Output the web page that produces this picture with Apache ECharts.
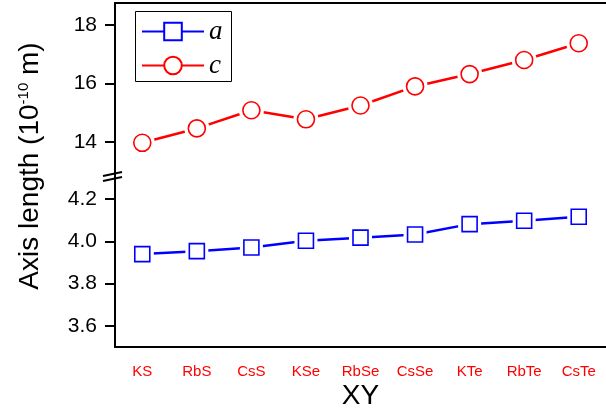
<!DOCTYPE html>
<html lang="en">
<head>
    <meta charset="UTF-8">
    <title>Axis length</title>
    <style>
        html, body { margin: 0; padding: 0; background: #fff; }
    </style>
</head>
<body>
<div id="container" style="width: 606px; height: 415px"></div>
<script type="text/javascript" src="https://cdn.jsdelivr.net/npm/echarts@6/dist/echarts.min.js"></script>
<script type="text/javascript">
    var categories = ['KS', 'RbS', 'CsS', 'KSe', 'RbSe', 'CsSe', 'KTe', 'RbTe', 'CsTe'];
    var aValues = [3.940, 3.954, 3.971, 4.003, 4.018, 4.033, 4.082, 4.098, 4.117];
    var cValues = [13.98, 14.47, 15.09, 14.78, 15.25, 15.90, 16.32, 16.80, 17.37];
    var topTicks = [14, 16, 18];
    var topMinor = [15, 17];
    var bottomTicks = [3.6, 3.8, 4.0, 4.2];
    var bottomMinor = [3.7, 3.9, 4.1];

    var black = '#000';
    var labelFont = 'Liberation Sans, Arial, sans-serif';

    function pairs(values) {
        return values.map(function (v, i) { return [i, v]; });
    }

    function haloSeries(name, symbol, size, xi, yi, data) {
        // white disc under the marker so the line stops short of it
        return {
            name: name, type: 'scatter', xAxisIndex: xi, yAxisIndex: yi,
            symbol: symbol, symbolSize: size, data: pairs(data), z: 5, silent: true,
            itemStyle: {color: '#fff', opacity: 1}
        };
    }

    function markerSeries(name, symbol, size, color, xi, yi, data) {
        return {
            name: name, type: 'scatter', xAxisIndex: xi, yAxisIndex: yi,
            symbol: symbol, symbolSize: size, data: pairs(data), z: 6, silent: true,
            itemStyle: {color: '#fff', borderColor: color, borderWidth: 1.6, opacity: 1}
        };
    }

    var option = {
        animation: false,
        backgroundColor: '#fff',
        grid: [
            {left: 115, top: 3, width: 498, height: 173},
            {left: 115, top: 176, width: 498, height: 171}
        ],
        legend: {
            data: ['a', 'c'],
            orient: 'vertical',
            left: 135,
            top: 12,
            itemWidth: 62,
            itemHeight: 22,
            itemGap: 7,
            padding: [6, 10, 3, 6],
            textStyle: {
                fontFamily: 'Liberation Serif, Times New Roman, serif',
                fontStyle: 'italic',
                fontSize: 27,
                lineHeight: 22,
                color: black
            }
        },
        xAxis: [
            {
                gridIndex: 1, type: 'category', data: categories, boundaryGap: true,
                axisLine: {lineStyle: {color: black, width: 2}},
                axisTick: {alignWithLabel: true, length: 10, lineStyle: {color: black, width: 2}},
                axisLabel: {color: '#ff0000', fontSize: 15, fontFamily: labelFont, margin: 17},
                name: 'XY', nameLocation: 'middle', nameGap: 35,
                nameTextStyle: {fontSize: 28, fontFamily: labelFont, color: black}
            },
            {
                gridIndex: 1, type: 'category', data: categories, boundaryGap: true,
                axisLine: {show: false},
                axisTick: {length: 3, lineStyle: {color: black, width: 2}},
                axisLabel: {show: false}
            },
            {
                gridIndex: 0, type: 'category', data: categories, boundaryGap: true, position: 'top',
                axisLine: {lineStyle: {color: black, width: 2}},
                axisTick: {show: false},
                axisLabel: {show: false}
            }
        ],
        yAxis: [
            {
                gridIndex: 0, type: 'value', min: 12.85, max: 18.74,
                splitLine: {show: false},
                axisLine: {show: true, lineStyle: {color: black, width: 2}},
                axisTick: {show: true, length: 10, customValues: topTicks, lineStyle: {color: black, width: 2}},
                axisLabel: {customValues: topTicks, fontSize: 21, fontFamily: labelFont, color: black, margin: 18}
            },
            {
                gridIndex: 0, type: 'value', min: 12.85, max: 18.74,
                splitLine: {show: false},
                axisLine: {show: false},
                axisTick: {show: true, length: 5, customValues: topMinor, lineStyle: {color: black, width: 2}},
                axisLabel: {show: false}
            },
            {
                gridIndex: 1, type: 'value', min: 3.5, max: 4.31,
                splitLine: {show: false},
                axisLine: {show: true, lineStyle: {color: black, width: 2}},
                axisTick: {show: true, length: 10, customValues: bottomTicks, lineStyle: {color: black, width: 2}},
                axisLabel: {
                    customValues: bottomTicks, fontSize: 21, fontFamily: labelFont, color: black, margin: 18,
                    formatter: function (v) { return v.toFixed(1); }
                }
            },
            {
                gridIndex: 1, type: 'value', min: 3.5, max: 4.31,
                splitLine: {show: false},
                axisLine: {show: false},
                axisTick: {show: true, length: 5, customValues: bottomMinor, lineStyle: {color: black, width: 2}},
                axisLabel: {show: false}
            }
        ],
        graphic: [
            {
                type: 'text', x: 30, y: 166, rotation: Math.PI / 2,
                style: {
                    text: '{t|Axis length (10}{s|-10}{t| m)}',
                    align: 'center', verticalAlign: 'middle',
                    rich: {
                        t: {fontSize: 28, fontFamily: labelFont, fill: black},
                        s: {fontSize: 15, fontFamily: labelFont, fill: black, verticalAlign: 'top'}
                    }
                }
            },
            // legend frame
            {type: 'rect', shape: {x: 135.5, y: 11.5, width: 96, height: 70}, style: {fill: null, stroke: black, lineWidth: 1}},
            // axis break marks
            {type: 'line', shape: {x1: 103, y1: 176, x2: 122, y2: 172}, style: {stroke: black, lineWidth: 2}},
            {type: 'line', shape: {x1: 103, y1: 181, x2: 122, y2: 177}, style: {stroke: black, lineWidth: 2}}
        ],
        series: [
            {
                name: 'a', type: 'line', xAxisIndex: 0, yAxisIndex: 2, data: aValues,
                symbol: 'rect', symbolSize: 15, z: 2,
                lineStyle: {color: '#0000ff', width: 2.5},
                itemStyle: {color: '#fff', borderColor: '#0000ff', borderWidth: 1.6}
            },
            haloSeries('a-halo', 'rect', 23, 0, 2, aValues),
            markerSeries('a-mark', 'rect', 15, '#0000ff', 0, 2, aValues),
            {
                name: 'c', type: 'line', xAxisIndex: 2, yAxisIndex: 0, data: cValues,
                symbol: 'circle', symbolSize: 17, z: 2,
                lineStyle: {color: '#ff0000', width: 2.5},
                itemStyle: {color: '#fff', borderColor: '#ff0000', borderWidth: 1.6}
            },
            haloSeries('c-halo', 'circle', 25, 2, 0, cValues),
            markerSeries('c-mark', 'circle', 17, '#ff0000', 2, 0, cValues)
        ]
    };

    var myChart = echarts.init(document.getElementById('container'));
    myChart.setOption(option);
</script>
</body>
</html>
